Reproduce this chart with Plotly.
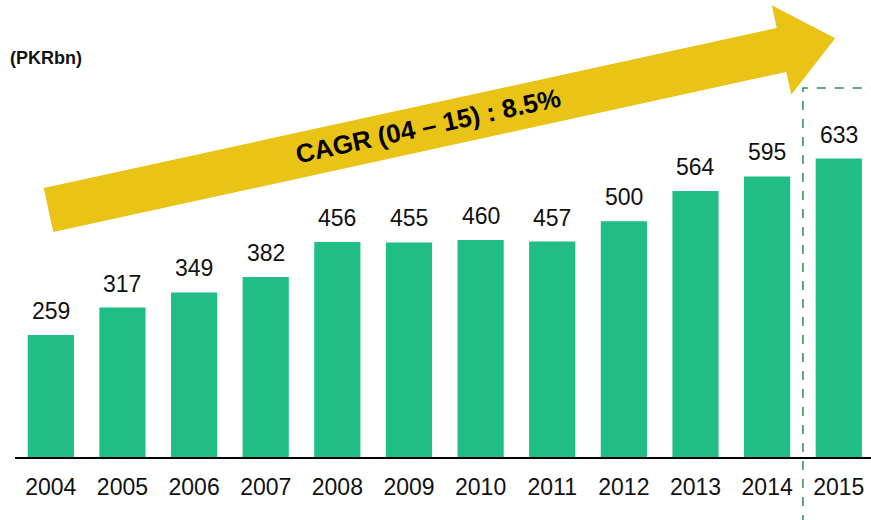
import math
import plotly.graph_objects as go

years = ["2004", "2005", "2006", "2007", "2008", "2009", "2010", "2011", "2012", "2013", "2014", "2015"]
values = [259, 317, 349, 382, 456, 455, 460, 457, 500, 564, 595, 633]
unit_label = "(PKRbn)"
cagr_label = "CAGR (04 \u2013 15) : 8.5%"

W, H = 871, 520
ML, MR, MT, MB = 15, 0, 20, 63
PW, PH = W - ML - MR, H - MT - MB

BAR = "#20BE85"
YELLOW = "#E9C416"
DASH = "#2F8A55"
FONT = "Liberation Sans, Arial"


def px(x, y):
    return (x - ML) / PW, (H - MB - y) / PH


fig = go.Figure()
fig.add_trace(go.Bar(x=years, y=values, marker=dict(color=BAR, line=dict(width=0)),
                     width=0.645, hoverinfo="skip"))

# value labels
for i, v in enumerate(values):
    fig.add_annotation(x=i, y=v, xref="x", yref="y", text=str(v), showarrow=False,
                       yanchor="bottom", yshift=9,
                       font=dict(family=FONT, size=23, color="#111"))

# arrow polygon (pixel geometry)
S = (48.5, 210.0)
d = (733.0, -160.0)
L = math.hypot(*d)
u = (d[0] / L, d[1] / L)
n = (-u[1], u[0])
w, h, tipL = 22.5, 45.8, 55.0
B = (S[0] + L * u[0], S[1] + L * u[1])
T = (B[0] + tipL * u[0], B[1] + tipL * u[1])
pts = [
    (S[0] - w * n[0], S[1] - w * n[1]),
    (B[0] - w * n[0], B[1] - w * n[1]),
    (B[0] - h * n[0], B[1] - h * n[1]),
    T,
    (B[0] + h * n[0], B[1] + h * n[1]),
    (B[0] + w * n[0], B[1] + w * n[1]),
    (S[0] + w * n[0], S[1] + w * n[1]),
]
path = "M " + " L ".join("%.5f,%.5f" % px(*p) for p in pts) + " Z"
fig.add_shape(type="path", path=path, xref="paper", yref="paper",
              fillcolor=YELLOW, line=dict(width=0), layer="above")

ang = math.degrees(math.atan2(-d[1], d[0]))
cx, cy = px(428, 126)
fig.add_annotation(xref="paper", yref="paper", x=cx, y=cy, text="<b>" + cagr_label + "</b>",
                   showarrow=False, textangle=-ang, xanchor="center", yanchor="middle",
                   font=dict(family=FONT, size=26, color="#000"))

# dashed highlight box around 2015
fig.add_shape(type="rect", xref="x", yref="paper", x0=10.5, x1=12.5,
              y0=-0.2, y1=px(0, 88)[1], line=dict(color=DASH, width=1.5, dash="dash"),
              fillcolor="rgba(0,0,0,0)", layer="above")

fig.add_annotation(xref="paper", yref="paper", x=px(8, 58)[0], y=px(8, 58)[1],
                   text="<b>" + unit_label + "</b>", showarrow=False, xanchor="left", yanchor="middle",
                   font=dict(family=FONT, size=18, color="#111"))

fig.update_layout(
    width=W, height=H, margin=dict(l=ML, r=MR, t=MT, b=MB),
    plot_bgcolor="white", paper_bgcolor="white", showlegend=False,
    xaxis=dict(type="category", range=[-0.5, 11.45], showline=True, linecolor="black", linewidth=2,
               ticks="outside", ticklen=8, tickcolor="rgba(0,0,0,0)", showgrid=False,
               tickfont=dict(family=FONT, size=23, color="#111")),
    yaxis=dict(range=[0, PH / 0.4715], visible=False, showgrid=False, zeroline=False),
)

fig.write_html("out.html", config={"displayModeBar": False},
               post_script="document.body.style.margin='0';document.body.style.padding='0';")
